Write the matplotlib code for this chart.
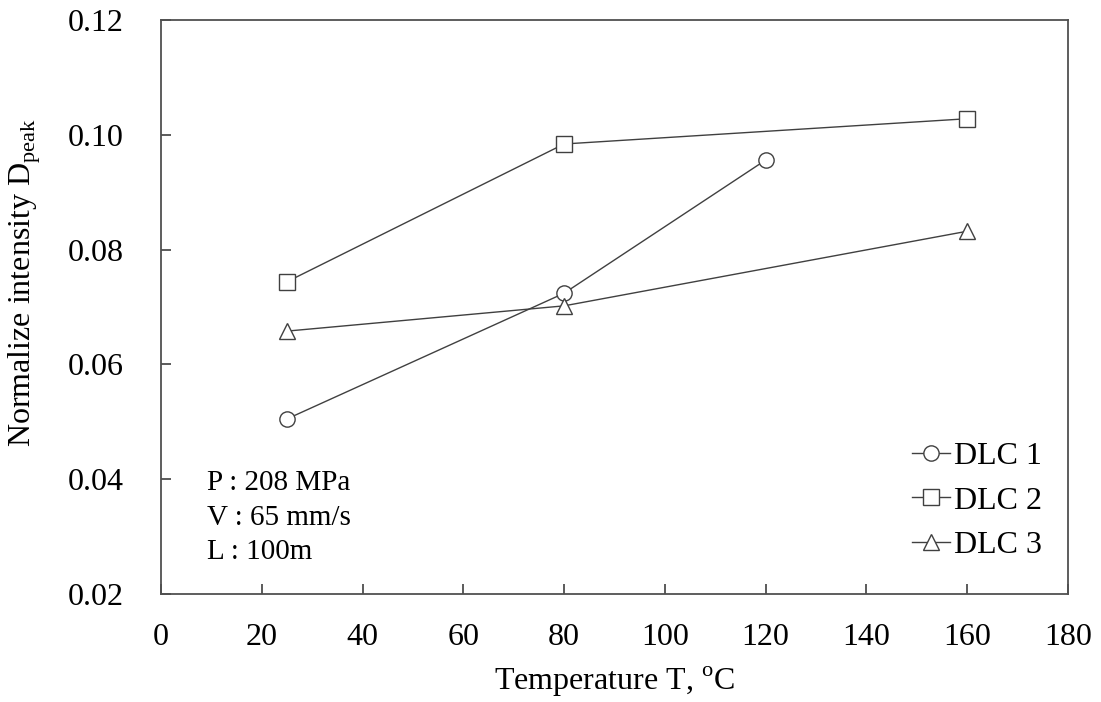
import matplotlib
matplotlib.use("Agg")
import matplotlib.pyplot as plt

plt.rcParams['font.family'] = ['Liberation Serif', 'DejaVu Serif']
plt.rcParams['mathtext.fontset'] = 'custom'
plt.rcParams['mathtext.rm'] = 'Liberation Serif'

temps_1 = [25, 80, 120]
dlc1 = [0.0505, 0.0724, 0.0956]
temps_2 = [25, 80, 160]
dlc2 = [0.0744, 0.0984, 0.1028]
temps_3 = [25, 80, 160]
dlc3 = [0.0658, 0.0702, 0.0832]
labels = ['DLC 1', 'DLC 2', 'DLC 3']
conditions = ['P : 208 MPa', 'V : 65 mm/s', 'L : 100m']

fig = plt.figure(figsize=(11.01, 7.02), dpi=100)
ax = fig.add_axes([161/1101, 1-594/702, (1068-161)/1101, (594-20)/702])

lc = '#404040'
kw = dict(color=lc, lw=1.0, markerfacecolor='white', markeredgecolor=lc, markersize=11, markeredgewidth=1.0)
ax.plot(temps_1, dlc1, marker='o', label=labels[0], **kw)
ax.plot(temps_2, dlc2, marker='s', label=labels[1], **kw)
ax.plot(temps_3, dlc3, marker='^', label=labels[2], **kw)

ax.set_xlim(0, 180)
ax.set_ylim(0.02, 0.12)
ax.set_xticks(range(0, 181, 20))
ax.set_yticks([0.02, 0.04, 0.06, 0.08, 0.10, 0.12])
ax.set_yticklabels(['0.02', '0.04', '0.06', '0.08', '0.10', '0.12'])
ax.tick_params(direction='in', length=7, width=1.2, colors=lc, labelcolor='black', labelsize=23)
ax.tick_params(axis='x', pad=21)
ax.tick_params(axis='y', pad=27)
for s in ax.spines.values():
    s.set_color('#505050')
    s.set_linewidth(1.3)

ax.set_xlabel('Temperature T, $^{\\mathrm{o}}$C', fontsize=23, labelpad=9)
fig.text(25/1101, 1-282/702, 'Normalize intensity D$_{\\mathrm{peak}}$', fontsize=23,
         rotation=90, ha='center', va='center')

cond_y = [0.193, 0.132, 0.073]
for txt, yy in zip(conditions, cond_y):
    ax.text(0.0507, yy, txt, transform=ax.transAxes, fontsize=21, va='center', ha='left')

leg = ax.legend(loc='lower right', bbox_to_anchor=(1.0, 0.0), frameon=False, fontsize=23,
                handlelength=1.2, handletextpad=0.12, labelspacing=0.47,
                borderaxespad=0.0, borderpad=0.0)
leg.set_bbox_to_anchor((1 - 26/907, 34/574), transform=ax.transAxes)

fig.savefig('out.png', dpi=100)
